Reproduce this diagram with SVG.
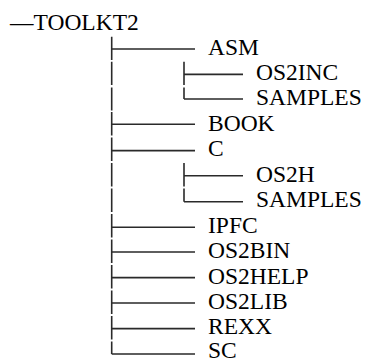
<svg xmlns="http://www.w3.org/2000/svg" width="367" height="360" viewBox="0 0 367 360">
<style>
.t{font-family:'Liberation Serif','Times New Roman','DejaVu Serif',serif;font-size:23.5px;fill:#000}
.c path{stroke:#2a2a2a;stroke-width:1.6;fill:none}
</style>
<rect width="367" height="360" fill="#fff"/>
<g class="c" id="connectors">
<path d="M111.7 36.7V60M111.7 61.7V85M111.7 87.4V110.4M111.7 112.1V135.4M111.7 137.5V161M111.7 163V186.4M111.7 188.4V212M111.7 214V237.4M111.7 239.4V263M111.7 265V288.4M111.7 290.4V314M111.7 316V339.4M111.7 341.4V354"/>
<path d="M111.7 49H195M111.7 124.3H195M111.7 150.6H195M111.7 227.3H195M111.7 252H195M111.7 277.6H195M111.7 303H195M111.7 328.6H195M111.7 354H195"/>
<path d="M184 61.7V85M184 87.4V99M184 74.4H243M184 99H243"/>
<path d="M184 163V186.4M184 188.4V201.7M184 175.7H243M184 201.7H243"/>
</g>
<g class="t">
<g id="root"><text x="10" y="30">—TOOLKT2</text></g>
<g id="asm"><text x="208" y="55">ASM</text></g>
<g id="asm-os2inc"><text x="256" y="80.4">OS2INC</text></g>
<g id="asm-samples"><text x="256" y="105.4">SAMPLES</text></g>
<g id="book"><text x="208" y="130.5">BOOK</text></g>
<g id="c"><text x="208" y="156.4">C</text></g>
<g id="c-os2h"><text x="256" y="181.6">OS2H</text></g>
<g id="c-samples"><text x="256" y="207.4">SAMPLES</text></g>
<g id="ipfc"><text x="208" y="233">IPFC</text></g>
<g id="os2bin"><text x="208" y="258">OS2BIN</text></g>
<g id="os2help"><text x="208" y="283.6">OS2HELP</text></g>
<g id="os2lib"><text x="208" y="309">OS2LIB</text></g>
<g id="rexx"><text x="208" y="334.4">REXX</text></g>
<g id="sc"><text x="208" y="358">SC</text></g>
</g>
</svg>
